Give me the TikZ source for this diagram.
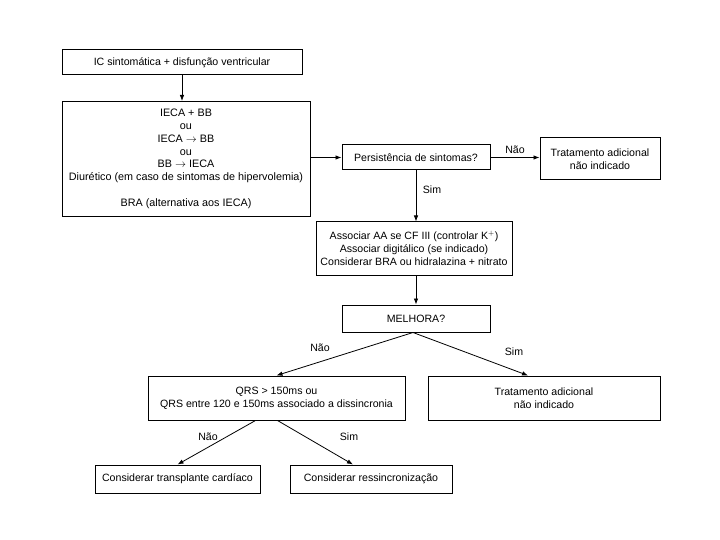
\documentclass[tikz,border=0pt]{standalone}
\usepackage{fontspec}
\setmainfont{Liberation Sans}
\usetikzlibrary{arrows.meta}
\begin{document}
\begin{tikzpicture}[x=1pt,y=-1pt,
  box/.style={draw=black,line width=1pt,align=center,inner sep=2pt,font=\fontsize{10.6}{13}\selectfont},
  conn/.style={line width=0.8pt,-{Latex[length=6pt,width=4.5pt]}},
  lbl/.style={font=\fontsize{10.6}{12}\selectfont}]
\useasboundingbox (0,0) rectangle (720,540);
\node[box,minimum width=240pt,minimum height=25pt] (b1) at (182,62.5) {IC sintomática + disfunção ventricular};
\node[box,minimum width=248pt,minimum height=115pt,font=\fontsize{10.8}{12.8}\selectfont] (b2) at (186,159)
  {IECA + BB\\ou\\IECA $\rightarrow$ BB\\ou\\BB $\rightarrow$ IECA\\Diurético (em caso de sintomas de hipervolemia)\\[13pt]BRA (alternativa aos IECA)};
\node[box,minimum width=148pt,minimum height=25pt] (b3) at (416,157.5) {Persistência de sintomas?};
\node[box,minimum width=120pt,minimum height=42pt] (b4) at (600,159) {Tratamento adicional\\não indicado};
\node[box,minimum width=196pt,minimum height=53pt] (b5) at (414,248.5) {Associar AA se CF III (controlar K$^{+}$)\\Associar digitálico (se indicado)\\Considerar BRA ou hidralazina + nitrato};
\node[box,minimum width=148pt,minimum height=27pt] (b6) at (416,318.5) {MELHORA?};
\node[box,minimum width=257pt,minimum height=44pt] (qrs) at (276.5,398) {QRS > 150ms ou\\QRS entre 120 e 150ms associado a dissincronia};
\node[box,minimum width=232pt,minimum height=44pt] (b7) at (544,398) {Tratamento adicional\\não indicado};
\node[box,minimum width=165pt,minimum height=28pt] (tx) at (177.5,479) {Considerar transplante cardíaco};
\node[box,minimum width=162pt,minimum height=28pt] (rs) at (371,479) {Considerar ressincronização};

\draw[conn] (b1.south) -- (b1.south |- b2.north);
\draw[conn] (b2.east |- b3.west) -- (b3.west);
\draw[conn] (b3.east) -- (b3.east -| b4.west);
\draw[conn] (b3.south) -- (b3.south |- b5.north);
\draw[conn] (b5.south -| b6.north) -- (b6.north);
\draw[conn] ([xshift=-3pt]b6.south) -- (qrs.north);
\draw[conn] ([xshift=-3pt]b6.south) -- ([xshift=-16pt]b7.north);
\draw[conn] ([xshift=-21pt]qrs.south) -- (tx.north);
\draw[conn] ([xshift=1pt]qrs.south) -- ([xshift=-18pt]rs.north);

\node[lbl] (l1) at (515,150) {Não};
\node[lbl] (l2) at (432,190) {Sim};
\node[lbl] (l3) at (320,348) {Não};
\node[lbl] (l4) at (514,352) {Sim};
\node[lbl] (l5) at (208,437) {Não};
\node[lbl] (l6) at (349,437) {Sim};
\end{tikzpicture}
\end{document}
